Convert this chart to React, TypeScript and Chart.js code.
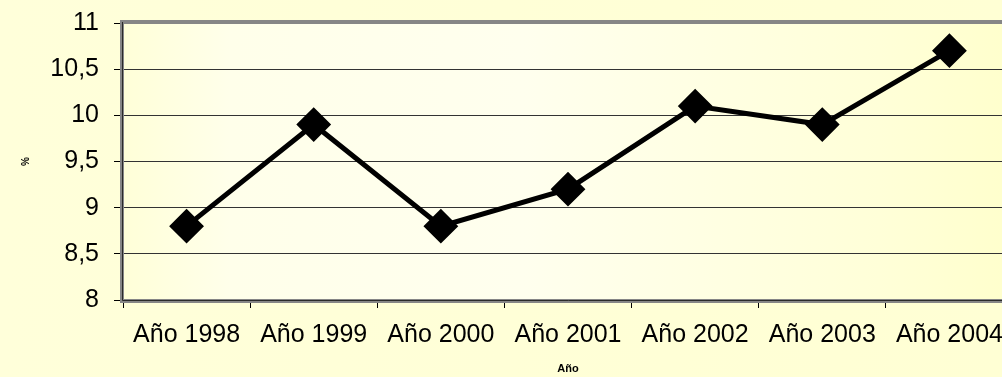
import { useEffect, useRef } from "react";
import { Chart, registerables } from "chart.js";

Chart.register(...registerables);

const years = ["Año 1998", "Año 1999", "Año 2000", "Año 2001", "Año 2002", "Año 2003", "Año 2004"];
const percentages = [8.8, 9.9, 8.8, 9.2, 10.1, 9.9, 10.7];
const yMin = 8;
const yMax = 11;
const yStep = 0.5;
const xTitle = "Año";
const yTitle = "%";

const FONT = "'Liberation Sans', Arial, sans-serif";

// Paints the plot area gradient and the grey sunken frame around it.
const plotFrame = {
  id: "plotFrame",
  beforeDraw(chart: Chart) {
    const { ctx, chartArea: a } = chart;
    ctx.save();
    const g = ctx.createLinearGradient(a.left, 0, a.right, 0);
    g.addColorStop(0, "#FFFFD8");
    g.addColorStop(0.12, "#FFFFEA");
    g.addColorStop(0.45, "#FFFFEE");
    g.addColorStop(0.85, "#FFFFD8");
    g.addColorStop(1, "#FFFFCC");
    ctx.fillStyle = g;
    ctx.fillRect(a.left, a.top, a.right - a.left, a.bottom - a.top);
    ctx.restore();
  },
  beforeDatasetsDraw(chart: Chart) {
    const { ctx, chartArea: a } = chart;
    ctx.save();
    ctx.strokeStyle = "#868686";
    ctx.lineWidth = 4;
    ctx.strokeRect(a.left - 1, a.top - 1, a.right - a.left + 2, a.bottom - a.top + 2);
    ctx.strokeStyle = "#2a2a2a";
    ctx.lineWidth = 1;
    ctx.beginPath();
    ctx.moveTo(a.left - 0.5, a.top - 1);
    ctx.lineTo(a.left - 0.5, a.bottom + 0.5);
    ctx.lineTo(a.right + 2, a.bottom + 0.5);
    ctx.stroke();
    ctx.restore();
  },
};

export default function App() {
  const canvasRef = useRef<HTMLCanvasElement | null>(null);

  useEffect(() => {
    const canvas = canvasRef.current;
    if (!canvas) return;
    const chart = new Chart(canvas, {
      type: "line",
      data: {
        labels: years,
        datasets: [
          {
            data: percentages,
            borderColor: "#000000",
            borderWidth: 5,
            backgroundColor: "#000000",
            pointStyle: "rectRot",
            pointRadius: 16,
            pointBorderWidth: 2,
            pointBorderColor: "#000000",
            pointBackgroundColor: "#000000",
            tension: 0,
            fill: false,
          },
        ],
      },
      options: {
        responsive: false,
        devicePixelRatio: 1,
        animation: false,
        layout: { padding: { left: 0, right: 11, top: 23, bottom: 0 } },
        plugins: {
          legend: { display: false },
          tooltip: { enabled: false },
        },
        scales: {
          x: {
            offset: true,
            border: { display: false },
            grid: {
              offset: true,
              drawOnChartArea: false,
              drawTicks: true,
              tickLength: 8,
              tickColor: "#000000",
              tickWidth: 1,
            },
            ticks: {
              color: "#000000",
              padding: 12,
              maxRotation: 0,
              autoSkip: false,
              font: { family: FONT, size: 25 },
            },
            title: {
              display: true,
              text: xTitle,
              color: "#000000",
              padding: { top: 0, bottom: 1 },
              font: { family: FONT, size: 11, weight: "bold" },
            },
            afterFit(scale: any) {
              scale.height = 77;
              scale.paddingLeft = 0;
              scale.paddingRight = 0;
            },
          },
          y: {
            min: yMin,
            max: yMax,
            border: { display: false },
            grid: {
              color: "#333333",
              lineWidth: 1,
              drawTicks: true,
              tickLength: 9,
              tickColor: "#000000",
            },
            ticks: {
              stepSize: yStep,
              color: "#000000",
              padding: 15,
              font: { family: FONT, size: 25 },
              callback: (v: any) => String(v).replace(".", ","),
            },
            title: {
              display: true,
              text: yTitle,
              color: "#000000",
              padding: { top: 20, bottom: 0 },
              font: { family: FONT, size: 10, weight: "bold" },
            },
            afterFit(scale: any) {
              scale.width = 123;
              scale.paddingTop = 0;
              scale.paddingBottom = 0;
            },
          },
        },
      },
      plugins: [plotFrame],
    });
    return () => chart.destroy();
  }, []);

  return (
    <div
      style={{
        position: "fixed",
        left: 0,
        top: 0,
        width: 1002,
        height: 377,
        overflow: "hidden",
        background: "linear-gradient(90deg, #FFFFDA 0%, #FFFFD4 100%)",
      }}
    >
      <canvas ref={canvasRef} width={1031} height={377} style={{ display: "block" }} />
    </div>
  );
}
